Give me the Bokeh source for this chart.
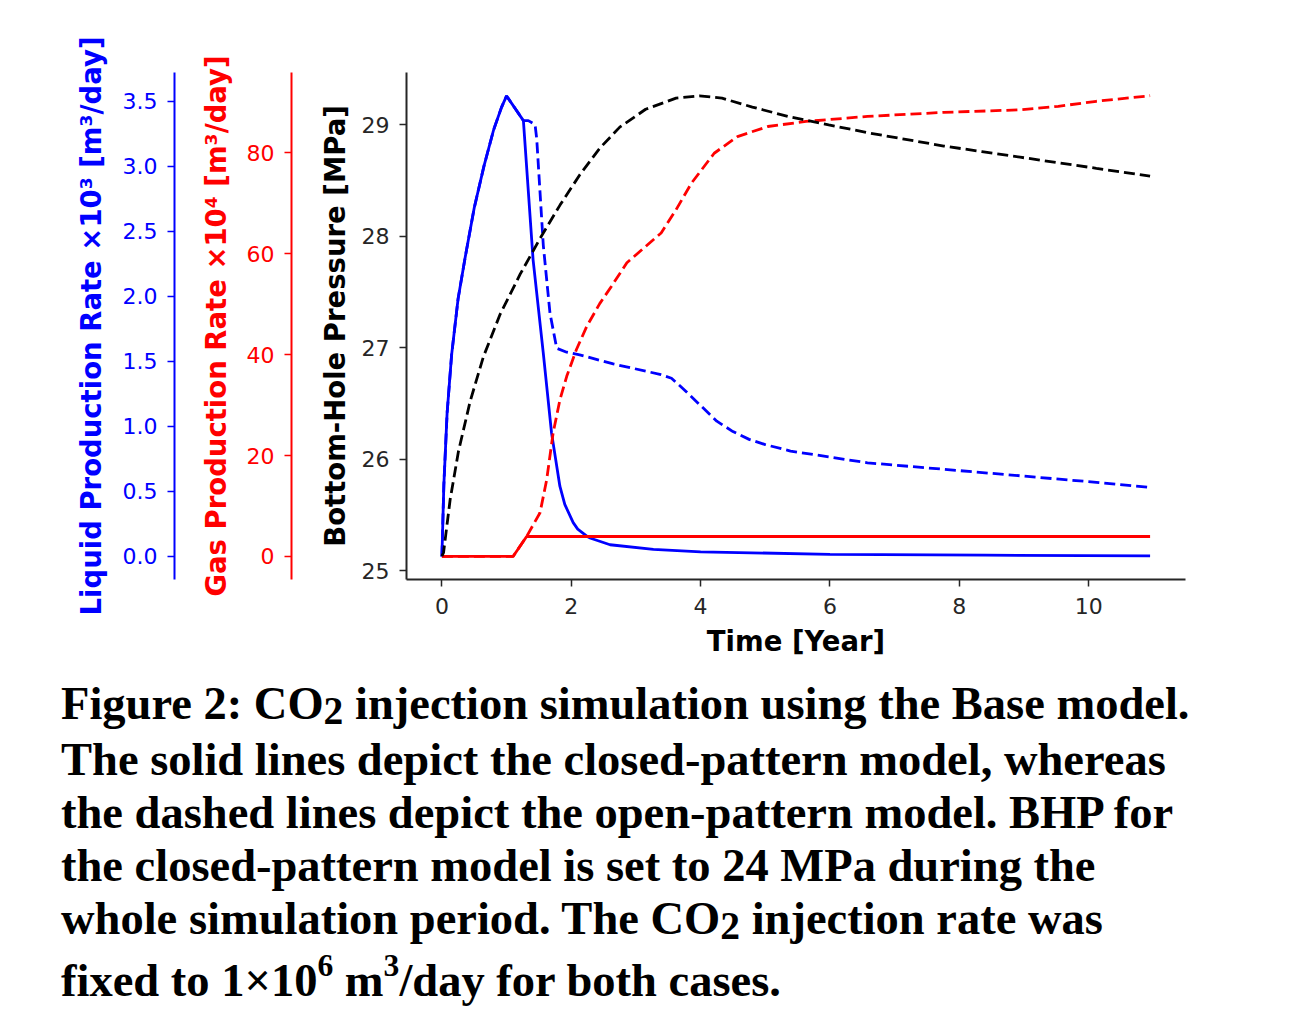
from bokeh.plotting import figure
from bokeh.models import Range1d, LinearAxis, FixedTicker, Div
from bokeh.layouts import column
from bokeh.embed import file_html
from bokeh.resources import INLINE

# ---------------- data ----------------
x_ticks = [0, 2, 4, 6, 8, 10]
bhp_ticks = [25, 26, 27, 28, 29]
gas_ticks = [0, 20, 40, 60, 80]
liq_ticks = [0.0, 0.5, 1.0, 1.5, 2.0, 2.5, 3.0, 3.5]
liq_tick_labels = ["0.0", "0.5", "1.0", "1.5", "2.0", "2.5", "3.0", "3.5"]

# Liquid production rate (x10^3 m3/day), closed pattern (solid)
liq_closed_t = [0, 0.03, 0.08, 0.15, 0.25, 0.36, 0.5, 0.65, 0.8, 0.92, 1.0, 1.26,
                1.41, 1.566, 1.695, 1.824, 1.9, 2.03, 2.1, 2.24, 2.3, 2.6, 3.27,
                4.0, 6.0, 8.4, 10.95]
liq_closed = [0, 0.55, 1.1, 1.55, 1.98, 2.3, 2.68, 3.0, 3.28, 3.45, 3.54, 3.35,
              2.28, 1.57, 0.95, 0.54, 0.40, 0.26, 0.21, 0.156, 0.14, 0.09, 0.054,
              0.036, 0.016, 0.01, 0.005]

# Liquid production rate, open pattern (dashed)
liq_open_t = [0, 0.03, 0.08, 0.15, 0.25, 0.36, 0.5, 0.65, 0.8, 0.92, 1.0, 1.26,
              1.336, 1.44, 1.466, 1.517, 1.568, 1.671, 1.775, 1.93, 2.13, 2.65,
              3.37, 3.55, 3.75, 4.0, 4.25, 4.5, 4.75, 5.0, 5.39, 6.58, 7.76,
              8.94, 10.12, 10.95]
liq_open = [0, 0.55, 1.1, 1.55, 1.98, 2.3, 2.68, 3.0, 3.28, 3.45, 3.54, 3.35,
            3.35, 3.32, 3.21, 2.80, 2.39, 1.87, 1.60, 1.57, 1.55, 1.48,
            1.40, 1.37, 1.28, 1.16, 1.04, 0.96, 0.90, 0.86, 0.81, 0.72, 0.67,
            0.62, 0.57, 0.53]

# Gas production rate (x10^4 m3/day), closed pattern (solid)
gas_closed_t = [0, 1.1, 1.31, 10.95]
gas_closed = [0, 0, 3.95, 3.95]

# Gas production rate, open pattern (dashed)
gas_open_t = [0, 1.1, 1.31, 1.517, 1.62, 1.72, 1.826, 1.93, 2.08, 2.24, 2.44, 2.62,
              2.86, 3.39, 3.62, 3.86, 4.21, 4.57, 5.04, 5.63, 6.58, 7.76, 8.94,
              9.53, 10.12, 10.95]
gas_open = [0, 0, 3.95, 8.65, 15.2, 24.5, 31.1, 35.7, 41.0, 45.6, 50.1, 53.5,
            58.2, 64.1, 68.7, 74.0, 79.9, 83.2, 85.2, 86.2, 87.2, 88.0, 88.5,
            89.2, 90.2, 91.3]

# Bottom-hole pressure (MPa), open pattern (dashed)
bhp_open_t = [0, 0.025, 0.128, 0.256, 0.437, 0.642, 0.90, 1.21, 1.517, 1.826, 2.13,
              2.44, 2.75, 3.15, 3.62, 3.98, 4.33, 4.80, 5.39, 5.98, 6.58, 7.17,
              7.76, 8.35, 8.94, 9.53, 10.12, 10.95]
bhp_open = [25.13, 25.16, 25.64, 26.07, 26.52, 26.92, 27.30, 27.66, 27.98, 28.28, 28.55,
            28.79, 28.98, 29.14, 29.24, 29.26, 29.24, 29.16, 29.07, 29.0, 28.93, 28.87,
            28.81, 28.76, 28.71, 28.66, 28.61, 28.54]

BLUE = "#0000ff"
RED = "#ff0000"
DARK = "#262626"

# ---------------- figure ----------------
p = figure(width=1195, height=667, output_backend="svg", toolbar_location=None,
           x_range=Range1d(-0.5475, 11.4975), y_range=Range1d(24.92, 29.47),
           min_border_left=406, min_border_top=72, min_border_right=10,
           min_border_bottom=88)
p.extra_y_ranges = {"gas": Range1d(-4.57, 95.9), "liq": Range1d(-0.177, 3.72)}
p.outline_line_color = None
p.xgrid.visible = False
p.ygrid.visible = False
p.background_fill_color = "white"
p.border_fill_color = "white"


def style_axis(ax, color):
    ax.axis_line_color = color
    ax.axis_line_width = 2
    ax.major_tick_line_color = color
    ax.major_tick_line_width = 1.5
    ax.major_tick_out = 7
    ax.major_tick_in = 0
    ax.minor_tick_line_color = None
    ax.major_label_text_color = color
    ax.major_label_text_font = "DejaVu Sans"
    ax.major_label_text_font_size = "22px"
    ax.major_label_standoff = 10
    ax.axis_label_text_font = "DejaVu Sans"
    ax.axis_label_text_font_style = "bold"
    ax.axis_label_text_font_size = "27.5px"
    ax.axis_label_text_color = color


# x axis
xa = p.xaxis[0]
xa.ticker = FixedTicker(ticks=x_ticks)
xa.axis_label = "Time [Year]"
style_axis(xa, DARK)
xa.axis_label_text_color = "black"
xa.major_label_standoff = 11
xa.axis_label_standoff = 8

# BHP axis (default, closest to the frame)
ya = p.yaxis[0]
ya.ticker = FixedTicker(ticks=bhp_ticks)
ya.axis_label = "\nBottom-Hole Pressure [MPa]"
style_axis(ya, DARK)
ya.axis_label_text_color = "black"
ya.axis_label_standoff = 8
ya.axis_label_text_line_height = 0.76

# Gas axis
gas_axis = LinearAxis(y_range_name="gas", ticker=FixedTicker(ticks=gas_ticks),
                      axis_label="\nGas Production Rate \u00d710\u2074 [m\u00b3/day]")
style_axis(gas_axis, RED)
gas_axis.axis_label_standoff = 12
gas_axis.axis_label_text_line_height = 0.70
p.add_layout(gas_axis, "left")

# Liquid axis
liq_axis = LinearAxis(y_range_name="liq", ticker=FixedTicker(ticks=liq_ticks),
                      axis_label="Liquid Production Rate \u00d710\u00b3 [m\u00b3/day]")
style_axis(liq_axis, BLUE)
liq_axis.major_label_overrides = dict(zip(liq_ticks, liq_tick_labels))
liq_axis.axis_label_standoff = 13
p.add_layout(liq_axis, "left")

# lines
p.line(liq_closed_t, liq_closed, y_range_name="liq", line_color=BLUE, line_width=2.8)
p.line(liq_open_t, liq_open, y_range_name="liq", line_color=BLUE, line_width=2.8,
       line_dash="11 5")
p.line(gas_closed_t, gas_closed, y_range_name="gas", line_color=RED, line_width=2.8)
p.line(gas_open_t, gas_open, y_range_name="gas", line_color=RED, line_width=2.8,
       line_dash="11 5")
p.line(bhp_open_t, bhp_open, line_color="black", line_width=2.8, line_dash="11 5")

# ---------------- caption ----------------
SUB = '<span style="font-size:0.85em;position:relative;top:0.12em;">2</span>'
SUP6 = '<span style="font-size:0.68em;position:relative;top:-0.62em;">6</span>'
SUP3 = '<span style="font-size:0.68em;position:relative;top:-0.62em;">3</span>'
caption_html = (
    '<div style="font-family:\'Liberation Serif\',\'Times New Roman\',serif;'
    'font-weight:bold;font-size:46.5px;line-height:53px;white-space:nowrap;'
    'color:black;margin-left:56px;padding-top:5px;">'
    'Figure 2: CO' + SUB + ' injection simulation using the Base model.<br>'
    'The solid lines depict the closed-pattern model, whereas<br>'
    'the dashed lines depict the open-pattern model. BHP for<br>'
    'the closed-pattern model is set to 24 MPa during the<br>'
    'whole simulation period. The CO' + SUB + ' injection rate was'
    '<div style="margin-top:6px;">fixed to 1\u00d710' + SUP6 + ' m' + SUP3 +
    '/day for both cases.</div>'
    '</div>'
)
caption = Div(text=caption_html, width=1240, height=335)

layout = column(p, caption)
open("out.html", "w").write(file_html(layout, INLINE))
